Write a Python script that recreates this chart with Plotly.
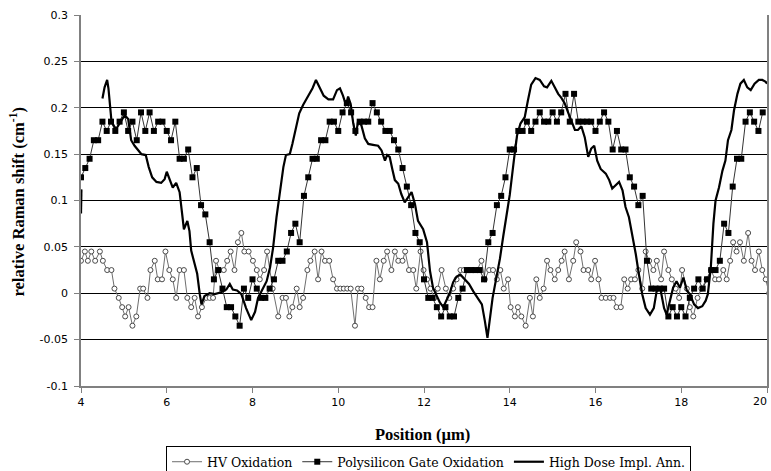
import plotly.graph_objects as go

# ---------------- data ----------------
POLY_X = [
    4.0, 4.1, 4.2, 4.3, 4.4, 4.5, 4.6, 4.7, 4.8, 4.9,
    5.0, 5.1, 5.2, 5.3, 5.4, 5.5, 5.6, 5.7, 5.8, 5.9,
    6.0, 6.1, 6.2, 6.3, 6.4, 6.5, 6.6, 6.7, 6.8, 6.9,
    7.0, 7.1, 7.2, 7.3, 7.4, 7.5, 7.6, 7.7, 7.8, 7.9,
    8.0, 8.1, 8.2, 8.3, 8.4, 8.5, 8.6, 8.7, 8.8, 8.9,
    9.0, 9.1, 9.2, 9.3, 9.4, 9.5, 9.6, 9.7, 9.8, 9.9,
    10.0, 10.1, 10.2, 10.3, 10.4, 10.5, 10.6, 10.7, 10.8, 10.9,
    11.0, 11.1, 11.2, 11.3, 11.4, 11.5, 11.6, 11.7, 11.8, 11.9,
    12.0, 12.1, 12.2, 12.3, 12.4, 12.5, 12.6, 12.7, 12.8, 12.9,
    13.0, 13.1, 13.2, 13.3, 13.4, 13.5, 13.6, 13.7, 13.8, 13.9,
    14.0, 14.1, 14.2, 14.3, 14.4, 14.5, 14.6, 14.7, 14.8, 14.9,
    15.0, 15.1, 15.2, 15.3, 15.4, 15.5, 15.6, 15.7, 15.8, 15.9,
    16.0, 16.1, 16.2, 16.3, 16.4, 16.5, 16.6, 16.7, 16.8, 16.9,
    17.0, 17.1, 17.2, 17.3, 17.4, 17.5, 17.6, 17.7, 17.8, 17.9,
    18.0, 18.1, 18.2, 18.3, 18.4, 18.5, 18.6, 18.7, 18.8, 18.9,
    19.0, 19.1, 19.2, 19.3, 19.4, 19.5, 19.6, 19.7, 19.8, 19.9,
]
POLY_Y = [
    0.125, 0.135, 0.145, 0.165, 0.165, 0.185, 0.175, 0.185, 0.175, 0.185,
    0.195, 0.175, 0.185, 0.165, 0.195, 0.175, 0.195, 0.175, 0.185, 0.185,
    0.175, 0.165, 0.185, 0.145, 0.145, 0.155, 0.125, 0.135, 0.095, 0.085,
    0.055, 0.015, 0.025, 0.005, -0.015, -0.015, -0.025, -0.035, 0.005, -0.005,
    0.015, 0.005, -0.005, -0.005, 0.005, 0.015, 0.035, 0.035, 0.045, 0.065,
    0.075, 0.055, 0.105, 0.125, 0.145, 0.145, 0.165, 0.165, 0.185, 0.185,
    0.175, 0.195, 0.205, 0.195, 0.175, 0.185, 0.185, 0.185, 0.205, 0.195,
    0.185, 0.175, 0.175, 0.165, 0.155, 0.135, 0.115, 0.095, 0.065, 0.055,
    0.015, -0.005, -0.005, -0.015, -0.025, -0.015, -0.025, -0.025, -0.005, 0.005,
    0.025, 0.025, 0.025, 0.025, 0.015, 0.055, 0.065, 0.095, 0.105, 0.125,
    0.155, 0.155, 0.175, 0.175, 0.185, 0.175, 0.185, 0.195, 0.185, 0.185,
    0.195, 0.185, 0.195, 0.215, 0.185, 0.215, 0.185, 0.185, 0.185, 0.185,
    0.175, 0.185, 0.195, 0.185, 0.155, 0.175, 0.155, 0.155, 0.125, 0.115,
    0.095, 0.105, 0.035, 0.005, 0.005, 0.005, 0.005, -0.025, -0.015, -0.025,
    -0.015, -0.025, -0.005, 0.005, 0.015, 0.005, 0.015, 0.025, 0.025, 0.035,
    0.075, 0.065, 0.115, 0.145, 0.145, 0.185, 0.195, 0.185, 0.175, 0.195,
]

HV_X = [
    4.00, 4.09, 4.16, 4.24, 4.33, 4.44, 4.51, 4.61, 4.71, 4.78,
    4.88, 4.96, 5.03, 5.11, 5.20, 5.29, 5.38, 5.45, 5.55, 5.62,
    5.72, 5.79, 5.89, 5.97, 6.06, 6.14, 6.22, 6.30, 6.40, 6.48,
    6.57, 6.65, 6.73, 6.82, 6.92, 7.00, 7.08, 7.15, 7.23, 7.33,
    7.41, 7.49, 7.58, 7.66, 7.74, 7.81, 7.91, 8.01, 8.10, 8.17,
    8.27, 8.34, 8.47, 8.60, 8.70, 8.78, 8.86, 8.93, 9.03, 9.10,
    9.18, 9.28, 9.35, 9.45, 9.53, 9.61, 9.69, 9.79, 9.88, 9.97,
    10.05, 10.13, 10.21, 10.29, 10.39, 10.46, 10.54, 10.64, 10.72, 10.80,
    10.89, 10.97, 11.06, 11.14, 11.24, 11.32, 11.40, 11.50, 11.56, 11.65,
    11.75, 11.82, 11.92, 11.99, 12.07, 12.15, 12.24, 12.32, 12.41, 12.51,
    12.59, 12.68, 12.76, 12.85, 12.93, 13.01, 13.08, 13.15, 13.24, 13.34,
    13.42, 13.52, 13.61, 13.70, 13.78, 13.86, 13.96, 14.02, 14.12, 14.19,
    14.27, 14.37, 14.47, 14.54, 14.62, 14.70, 14.79, 14.87, 14.95, 15.05,
    15.13, 15.21, 15.28, 15.38, 15.48, 15.55, 15.65, 15.72, 15.83, 15.90,
    15.99, 16.07, 16.14, 16.24, 16.34, 16.42, 16.49, 16.59, 16.67, 16.75,
    16.83, 16.92, 17.00, 17.09, 17.17, 17.25, 17.35, 17.43, 17.53, 17.60,
    17.70, 17.78, 17.87, 17.95, 18.02, 18.13, 18.20, 18.28, 18.38, 18.47,
    18.59, 18.69, 18.79, 18.88, 18.98, 19.06, 19.14, 19.21, 19.29, 19.37,
    19.46, 19.56, 19.64, 19.72, 19.81, 19.89, 19.97, 20.05,
]
HV_Y = [
    0.035, 0.045, 0.035, 0.045, 0.035, 0.045, 0.035, 0.025, 0.025, 0.005,
    -0.005, -0.015, -0.025, -0.015, -0.035, -0.025, 0.005, 0.005, -0.005, 0.025,
    0.035, 0.015, 0.015, 0.045, 0.025, 0.015, -0.005, 0.025, 0.025, -0.005,
    -0.015, -0.005, -0.025, -0.015, -0.005, -0.005, -0.005, 0.035, 0.025, 0.025,
    0.035, 0.045, 0.025, 0.055, 0.065, 0.045, 0.045, 0.035, 0.025, 0.015,
    0.025, 0.045, 0.005, -0.025, -0.005, -0.005, -0.025, -0.015, 0.005, -0.015,
    -0.005, 0.025, 0.035, 0.045, 0.015, 0.045, 0.035, 0.035, 0.015, 0.005,
    0.005, 0.005, 0.005, 0.005, -0.035, 0.005, 0.005, -0.005, -0.015, -0.015,
    0.035, 0.015, 0.035, 0.045, 0.025, 0.045, 0.035, 0.035, 0.045, 0.025,
    0.025, 0.005, 0.045, 0.025, 0.015, 0.005, -0.005, 0.005, 0.025, 0.005,
    -0.005, 0.005, 0.015, 0.025, 0.025, 0.025, 0.025, 0.025, 0.025, 0.035,
    0.015, 0.025, 0.025, 0.015, 0.025, 0.005, 0.015, -0.015, -0.025, -0.015,
    -0.025, -0.035, -0.005, -0.025, 0.015, -0.005, 0.005, 0.035, 0.025, 0.015,
    0.025, 0.035, 0.045, 0.015, 0.035, 0.055, 0.045, 0.025, 0.025, 0.015,
    0.035, 0.015, -0.005, -0.005, -0.005, -0.005, -0.015, -0.015, 0.015, 0.005,
    0.015, 0.015, 0.025, 0.005, 0.045, 0.035, 0.025, 0.035, 0.015, 0.045,
    0.025, 0.015, 0.005, -0.005, 0.025, 0.005, -0.015, -0.025, -0.005, 0.005,
    0.015, 0.025, 0.015, 0.015, 0.025, 0.015, 0.035, 0.055, 0.045, 0.055,
    0.035, 0.065, 0.035, 0.025, 0.045, 0.025, 0.015, 0.000,
]

HD_X = [
    4.00, 4.01, None,
    4.50, 4.55, 4.61, 4.64, 4.68, 4.71, 4.76, 4.82, 4.90, 5.02,
    5.10, 5.17, 5.25, 5.33, 5.41, 5.51, 5.58, 5.66, 5.76, 5.87,
    5.95, 6.00, 6.07, 6.14, 6.22, 6.30, 6.35, 6.40, 6.48, 6.53,
    6.57, 6.65, 6.71, 6.77, 6.81, 6.88, 7.00, 7.12, 7.27, 7.39,
    7.47, 7.54, 7.64, 7.74, 7.85, 7.97, 8.06, 8.13, 8.23, 8.33,
    8.41, 8.48, 8.56, 8.64, 8.72, 8.78, 8.87, 8.93, 9.01, 9.09,
    9.18, 9.30, 9.40, 9.48, 9.57, 9.66, 9.77, 9.88, 9.97, 10.04,
    10.11, 10.18, 10.23, 10.29, 10.35, 10.41, 10.46, 10.54, 10.62, 10.70,
    10.81, 10.93, 11.01, 11.09, 11.14, 11.20, 11.26, 11.32, 11.40, 11.47,
    11.55, 11.63, 11.71, 11.79, 11.86, 11.98, 12.07, 12.14, 12.21, 12.29,
    12.37, 12.45, 12.52, 12.60, 12.68, 12.76, 12.85, 12.93, 13.05, 13.15,
    13.25, 13.35, 13.42, 13.48, 13.53, 13.60, 13.68, 13.77, 13.85, 13.93,
    14.00, 14.10, 14.17, 14.25, 14.35, 14.42, 14.50, 14.60, 14.70, 14.80,
    14.87, 14.97, 15.05, 15.13, 15.20, 15.28, 15.36, 15.44, 15.52, 15.59,
    15.67, 15.75, 15.83, 15.90, 15.97, 16.04, 16.12, 16.24, 16.32, 16.39,
    16.47, 16.55, 16.63, 16.70, 16.78, 16.86, 16.94, 17.01, 17.09, 17.17,
    17.27, 17.36, 17.44, 17.52, 17.60, 17.66, 17.74, 17.81, 17.89, 17.97,
    18.05, 18.13, 18.20, 18.30, 18.39, 18.49, 18.57, 18.62, 18.69, 18.75,
    18.80, 18.88, 18.96, 19.03, 19.09, 19.17, 19.23, 19.31, 19.38, 19.46,
    19.54, 19.62, 19.71, 19.81, 19.89, 19.97, 20.00,
]
HD_Y = [
    0.086, 0.112, None,
    0.210, 0.222, 0.230, 0.221, 0.201, 0.186, 0.181, 0.177, 0.183, 0.192,
    0.188, 0.165, 0.159, 0.155, 0.150, 0.149, 0.136, 0.125, 0.120, 0.119,
    0.123, 0.131, 0.123, 0.114, 0.119, 0.109, 0.089, 0.069, 0.078, 0.067,
    0.046, 0.033, 0.021, -0.001, -0.012, -0.003, 0.000, -0.001, 0.001, 0.004,
    0.010, 0.004, 0.003, -0.001, -0.016, -0.029, -0.020, -0.005, 0.004, 0.013,
    0.028, 0.049, 0.082, 0.107, 0.136, 0.149, 0.150, 0.161, 0.179, 0.194,
    0.203, 0.212, 0.221, 0.230, 0.222, 0.213, 0.209, 0.209, 0.219, 0.221,
    0.213, 0.203, 0.212, 0.204, 0.183, 0.170, 0.185, 0.181, 0.167, 0.161,
    0.160, 0.159, 0.154, 0.143, 0.149, 0.147, 0.134, 0.122, 0.118, 0.107,
    0.098, 0.103, 0.109, 0.096, 0.078, 0.069, 0.055, 0.024, 0.006, -0.002,
    -0.010, -0.015, -0.008, 0.000, 0.012, 0.018, 0.020, 0.016, 0.010, 0.002,
    -0.005, -0.012, -0.030, -0.048, -0.030, -0.005, 0.015, 0.037, 0.062, 0.087,
    0.106, 0.145, 0.170, 0.183, 0.190, 0.207, 0.225, 0.232, 0.230, 0.223,
    0.222, 0.229, 0.222, 0.215, 0.211, 0.205, 0.195, 0.186, 0.176, 0.176,
    0.180, 0.168, 0.147, 0.156, 0.159, 0.143, 0.134, 0.129, 0.122, 0.113,
    0.116, 0.120, 0.111, 0.093, 0.082, 0.064, 0.042, 0.021, -0.001, -0.016,
    -0.023, -0.016, 0.006, 0.003, -0.016, -0.023, -0.008, 0.006, 0.013, 0.006,
    0.017, 0.003, -0.001, -0.012, -0.016, -0.014, -0.008, -0.001, 0.028, 0.075,
    0.100, 0.114, 0.132, 0.143, 0.165, 0.176, 0.197, 0.215, 0.226, 0.230,
    0.222, 0.219, 0.226, 0.230, 0.230, 0.228, 0.226,
]

Y_TICKS = [0.3, 0.25, 0.2, 0.15, 0.1, 0.05, 0, -0.05, -0.1]
Y_TICK_TEXT = ["0.3", "0.25", "0.2", "0.15", "0.1", "0.05", "0", "-0.05", "-0.1"]
X_TICKS = [4, 6, 8, 10, 12, 14, 16, 18, 20]
X_TICK_TEXT = ["4", "6", "8", "10", "12", "14", "16", "18", ""]
X_LAST_LABEL = "20"   # drawn as annotation so it is not dropped at the page edge

NAMES = ["HV Oxidation", "Polysilicon Gate Oxidation", "High Dose Impl. Ann."]

# ---------------- figure ----------------
fig = go.Figure()

fig.add_trace(go.Scatter(
    x=HV_X, y=HV_Y, name=NAMES[0], mode="lines+markers",
    line=dict(color="#6e6e6e", width=1),
    marker=dict(symbol="circle", size=5, color="white",
                line=dict(color="#4a4a4a", width=1)),
))
fig.add_trace(go.Scatter(
    x=POLY_X, y=POLY_Y, name=NAMES[1], mode="lines+markers",
    line=dict(color="#333333", width=1),
    marker=dict(symbol="square", size=6, color="black"),
))
fig.add_trace(go.Scatter(
    x=HD_X, y=HD_Y, name=NAMES[2], mode="lines",
    line=dict(color="black", width=2.2), connectgaps=False,
))

tick_font = dict(family="DejaVu Sans", size=11, color="black")
title_font = dict(family="Liberation Serif", size=16.5, color="black")

fig.update_layout(
    width=771, height=471,
    margin=dict(l=81, r=4, t=15, b=85, autoexpand=False),
    paper_bgcolor="white", plot_bgcolor="white",
    showlegend=True,
    legend=dict(
        orientation="h", x=0.5066, xanchor="center", y=-0.162, yanchor="top",
        bordercolor="black", borderwidth=1, bgcolor="white",
        font=dict(family="DejaVu Serif", size=12.5, color="black"),
    ),
    xaxis=dict(
        range=[4, 20], tickvals=X_TICKS, ticktext=X_TICK_TEXT,
        showgrid=False, zeroline=False,
        showline=True, linecolor="#808080", linewidth=1.5,
        ticks="outside", ticklen=5, tickcolor="#808080", tickwidth=1,
        tickfont=tick_font,
    ),
    yaxis=dict(
        range=[-0.1, 0.3], tickvals=Y_TICKS, ticktext=Y_TICK_TEXT,
        showgrid=True, gridcolor="black", gridwidth=1, zeroline=False,
        showline=True, linecolor="#808080", linewidth=1.5, mirror=True,
        ticks="outside", ticklen=5, tickcolor="#808080", tickwidth=1,
        tickfont=tick_font, ticklabelstandoff=4,
    ),
    annotations=[
        dict(text=X_LAST_LABEL, xref="paper", yref="paper", x=1, y=0,
             xanchor="right", yanchor="middle", xshift=2, yshift=-15,
             showarrow=False, font=tick_font),
        dict(text="<b>Position (µm)</b>", xref="paper", yref="paper",
             x=0.4985, y=-0.132, xanchor="center", yanchor="middle",
             showarrow=False, font=title_font),
        dict(text="<b>relative Raman shift (cm<sup>-1</sup>)</b>",
             xref="paper", yref="paper", x=-0.092, y=0.497,
             xanchor="center", yanchor="middle", textangle=-90,
             showarrow=False, font=title_font),
    ],
)

fig.write_html("out.html")
